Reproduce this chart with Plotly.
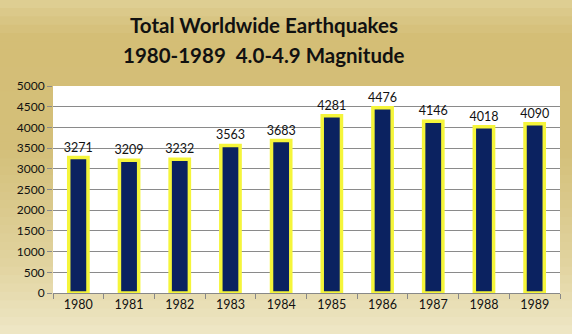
import plotly.graph_objects as go

years = ["1980", "1981", "1982", "1983", "1984", "1985", "1986", "1987", "1988", "1989"]
counts = [3271, 3209, 3232, 3563, 3683, 4281, 4476, 4146, 4018, 4090]
y_ticks = list(range(0, 5001, 500))
title_lines = ["Total Worldwide Earthquakes", "1980-1989&nbsp;&nbsp;4.0-4.9 Magnitude"]

FONT = "Lato, Open Sans, sans-serif"

fig = go.Figure()
fig.add_trace(go.Bar(
    x=years, y=counts,
    marker=dict(color="#0B2260", line=dict(color="#F5F53A", width=3.5)),
    text=[str(c) for c in counts], textposition="outside", constraintext="none",
    textfont=dict(family=FONT, size=12.5, color="#111"),
    cliponaxis=False, width=0.38,
))

# gold gradient background via stripes
shapes = []
stops = [(0.0, (222, 206, 146)), (0.1, (212, 190, 118)), (0.45, (212, 192, 122)), (0.8, (226, 212, 160)), (1.0, (238, 230, 196))]
n = 40
def interp(t):
    for i in range(len(stops) - 1):
        a, ca = stops[i]
        b, cb = stops[i + 1]
        if a <= t <= b:
            f = (t - a) / (b - a)
            return tuple(int(ca[k] + (cb[k] - ca[k]) * f) for k in range(3))
    return stops[-1][1]
top, bot = 1 + 86 / 207, -41 / 207
h = (top - bot) / n
for i in range(n):
    c = interp(i / (n - 1))
    shapes.append(dict(type="rect", xref="paper", yref="paper", layer="below",
                       x0=-0.2, x1=1.1, y0=top - (i + 1) * h - 0.002, y1=top - i * h + 0.002,
                       fillcolor="rgb(%d,%d,%d)" % c, line=dict(width=0)))
shapes.append(dict(type="rect", xref="paper", yref="paper", layer="below",
                   x0=0, x1=1, y0=0, y1=1, fillcolor="white", line=dict(width=0)))

annotations = []
for i, line in enumerate(title_lines):
    annotations.append(dict(text="<b>%s</b>" % line, xref="paper", yref="paper",
                            x=(264 - 53) / 507, y=1 + (86 - (25 + 30 * i)) / 207,
                            xanchor="center", yanchor="middle", showarrow=False,
                            font=dict(family=FONT, size=20.5, color="#111")))

fig.update_layout(
    width=572, height=334,
    margin=dict(l=53, r=12, t=86, b=41),
    paper_bgcolor="#D8C586",
    plot_bgcolor="rgba(0,0,0,0)",
    shapes=shapes,
    annotations=annotations,
    showlegend=False,
    bargap=0.6,
    xaxis=dict(showline=True, linecolor="#888", linewidth=1, ticks="outside", ticklen=5,
               tickcolor="#888", tickson="boundaries",
               tickfont=dict(family=FONT, size=12.5, color="#111"),
               showgrid=False),
    yaxis=dict(range=[0, 5000], tickvals=y_ticks, showgrid=True, gridcolor="#8a8a8a", gridwidth=1,
               ticks="outside", ticklen=5, tickcolor="#8a8a8a", showline=False, zeroline=False,
               tickfont=dict(family=FONT, size=12, color="#111")),
)

fig.write_html("out.html")
